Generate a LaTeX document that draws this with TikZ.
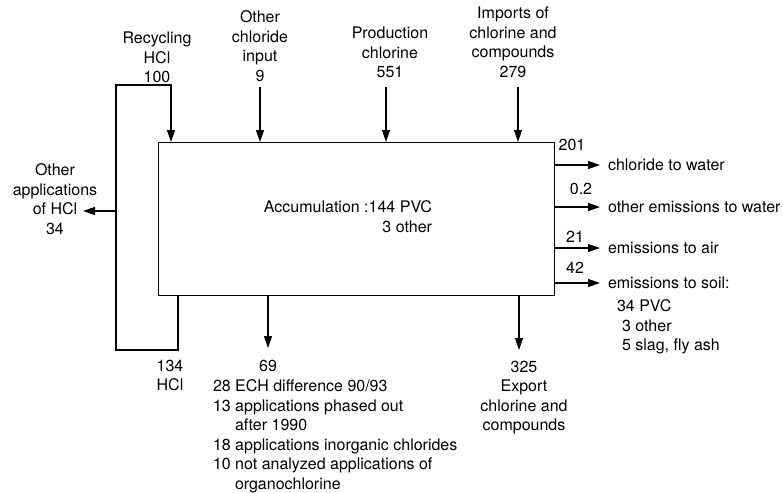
\documentclass[tikz,border=0pt]{standalone}
\usepackage{fontspec}
\setmainfont{TeX Gyre Heros}
\usetikzlibrary{arrows.meta}

\begin{document}
\begin{tikzpicture}[x=1pt, y=-1pt,
    flow/.style={line width=1.3pt, line join=miter, -{Triangle[length=12pt, width=8pt]}},
    lbl/.style={inner sep=0pt, outer sep=0pt, align=center, font=\fontsize{16}{19.5}\selectfont},
    outlbl/.style={lbl, anchor=west, inner xsep=8pt}]
  \useasboundingbox (0,0) rectangle (783,492);
  % the process box
  \node[draw, line width=1.3pt, minimum width=396pt, minimum height=153pt, anchor=north west] (proc) at (158,142) {};
  \node[lbl, anchor=north east, align=right] (accu) at (432,201) {Accumulation :144 PVC\\3 other};

  % inputs at the top
  \node[lbl, anchor=north] (recylbl) at (157,32) {Recycling\\HCl\\100};
  \node[lbl, anchor=north] (otherlbl) at (260,11) {Other\\chloride\\input\\9};
  \node[lbl, anchor=north] (prodlbl) at (390,27) {Production\\chlorine\\551};
  \node[lbl, anchor=north] (implbl) at (513,7) {Imports of\\chlorine and\\compounds\\279};
  \coordinate (otherin) at (260,87);
  \coordinate (prodin) at (386,87);
  \coordinate (impin) at (518,87);
  \foreach \c in {otherin,prodin,impin}
    \draw[flow] (\c) -- (\c |- proc.north);

  % HCl loop, with the branch to other applications
  \coordinate (hclout) at (178,350);
  \coordinate (hclleft) at (116,350);
  \coordinate (hcltop) at (116,85);
  \coordinate (recyin) at (171,85);
  \draw[flow] (hclout |- proc.south) -- (hclout) -- (hclleft) -- (hcltop) -- (recyin) -- (recyin |- proc.north);
  \node[lbl, anchor=north] (appslbl) at (55,164) {Other\\applications\\of HCl\\34};
  \coordinate (appsend) at (83,211);
  \draw[flow] (hcltop |- appsend) -- (appsend);
  \node[lbl, anchor=north] (hcllbl) at (170,360) {134\\HCl};

  % emissions on the right
  \node[outlbl] (clwater) at (600,165) {chloride to water};
  \node[outlbl] (othwater) at (600,207) {other emissions to water};
  \node[outlbl] (air) at (600,248) {emissions to air};
  \node[outlbl] (soil) at (600,283) {emissions to soil:};
  \foreach \n in {clwater,othwater,air,soil}
    \draw[flow] (proc.east |- \n.west) -- (\n.west);
  \node[lbl, anchor=north] (clwaterval) at (572,139) {201};
  \node[lbl, anchor=north] (othwaterval) at (581,183) {0.2};
  \node[lbl, anchor=north] (airval) at (575,231) {21};
  \node[lbl, anchor=north] (soilval) at (575,262) {42};
  \node[lbl, anchor=north west, align=left] (soillist) at (617,300)
    {34 PVC\\\hspace*{5pt}3 other\\\hspace*{5pt}5 slag, fly ash};

  % outputs at the bottom
  \coordinate (lostend) at (268,348);
  \draw[flow] (lostend |- proc.south) -- (lostend);
  \node[lbl, anchor=north] (lostlbl) at (268,360) {69};
  \node[lbl, anchor=north west, align=left] (lostlist) at (213,380)
    {28 ECH difference 90/93\\13 applications phased out\\\hspace*{22pt}after 1990\\18 applications inorganic chlorides\\10 not analyzed applications of\\\hspace*{22pt}organochlorine};
  \coordinate (expend) at (519,350);
  \draw[flow] (expend |- proc.south) -- (expend);
  \node[lbl, anchor=north] (explbl) at (524,361) {325\\Export\\chlorine and\\compounds};
\end{tikzpicture}
\end{document}
